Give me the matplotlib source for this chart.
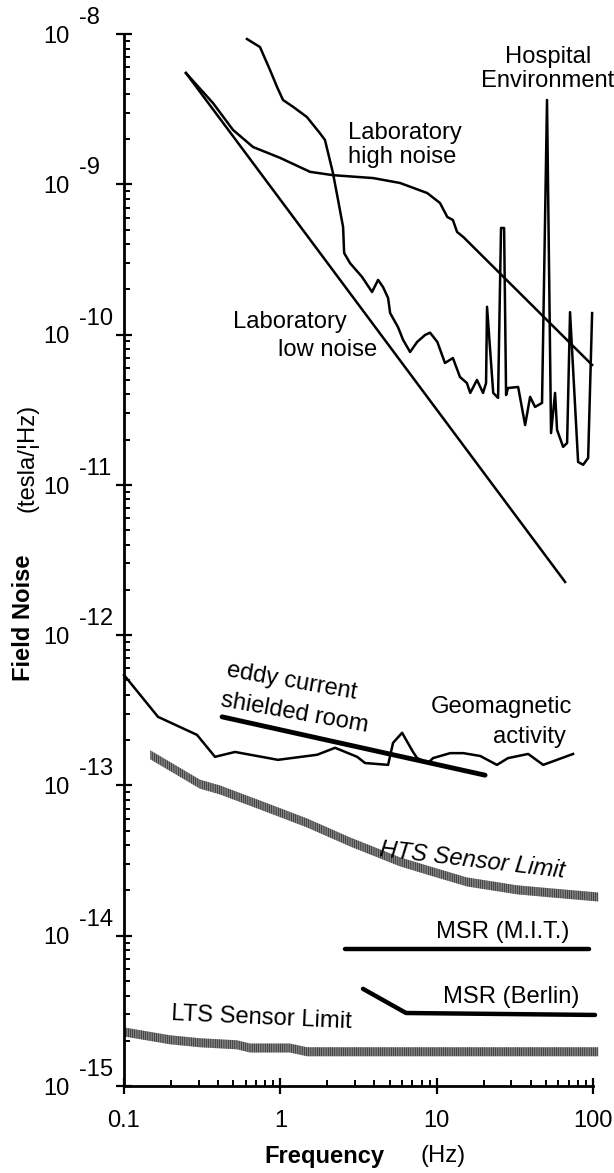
import numpy as np
import matplotlib
matplotlib.use("Agg")
import matplotlib.pyplot as plt
from matplotlib.ticker import LogLocator, NullFormatter

plt.rcParams["font.family"] = ["Liberation Sans", "DejaVu Sans"]
plt.rcParams["hatch.linewidth"] = 1.0

# ---- data (frequency in Hz, field noise in T/sqrt(Hz)) ----
lab_low_f = [0.249, 66.3]
lab_low_b = [5.50e-9, 2.26e-12]

lab_high_f = [0.249, 0.371, 0.498, 0.669, 0.995, 1.55, 2.17, 3.92, 5.83, 8.69,
              10.5, 11.7, 12.7, 13.5, 14.8, 98.7]
lab_high_b = [5.50e-9, 3.47e-9, 2.30e-9, 1.77e-9, 1.50e-9, 1.21e-9, 1.15e-9, 1.10e-9,
              1.02e-9, 8.75e-10, 7.51e-10, 6.06e-10, 5.79e-10, 4.82e-10, 4.46e-10, 6.28e-11]

hosp_f = [0.612, 0.741, 0.859, 0.953, 1.04, 1.21, 1.48, 1.79, 1.93, 2.17, 2.34, 2.52,
          2.56, 2.79, 3.33, 3.86, 4.22, 4.54, 4.89, 5.04, 5.66, 6.10, 6.76, 7.50, 8.43,
          9.07, 10.1, 11.3, 12.7, 14.1, 15.6, 16.4, 18.1, 19.8, 20.7, 21.0, 23.0, 24.7,
          25.8, 27.0, 27.8, 28.6, 33.2, 36.8, 39.6, 42.6, 47.2, 50.8, 53.9, 57.2, 58.9,
          64.4, 68.3, 71.3, 80.3, 86.5, 93.1, 98.7]
hosp_b = [9.26e-9, 8.19e-9, 5.76e-9, 4.44e-9, 3.64e-9, 3.27e-9, 2.80e-9, 2.19e-9, 1.97e-9,
          1.19e-9, 7.87e-10, 5.20e-10, 3.49e-10, 2.99e-10, 2.42e-10, 1.92e-10, 2.31e-10,
          2.07e-10, 1.75e-10, 1.39e-10, 1.12e-10, 9.21e-11, 7.66e-11, 8.93e-11, 9.94e-11,
          1.03e-10, 8.93e-11, 6.47e-11, 6.98e-11, 5.22e-11, 4.76e-11, 4.09e-11, 4.99e-11,
          4.09e-11, 4.76e-11, 1.53e-10, 4.09e-11, 3.79e-11, 5.12e-10, 5.12e-10, 3.96e-11,
          4.41e-11, 4.48e-11, 2.50e-11, 3.85e-11, 3.30e-11, 3.51e-11, 3.64e-9, 2.21e-11,
          4.09e-11, 2.32e-11, 1.79e-11, 1.90e-11, 1.41e-10, 1.42e-11, 1.36e-11, 1.51e-11,
          1.39e-10]

geo_f = [0.1, 0.165, 0.293, 0.382, 0.513, 0.966, 1.72, 2.24, 3.10, 3.48, 4.89, 5.26, 6.01,
         7.06, 7.50, 8.81, 9.48, 12.2, 14.8, 19.0, 24.3, 28.6, 38.5, 48.0, 74.6]
geo_b = [5.43e-13, 2.86e-13, 2.17e-13, 1.55e-13, 1.67e-13, 1.48e-13, 1.60e-13, 1.78e-13,
         1.55e-13, 1.41e-13, 1.37e-13, 1.92e-13, 2.24e-13, 1.67e-13, 1.52e-13, 1.41e-13,
         1.52e-13, 1.64e-13, 1.64e-13, 1.57e-13, 1.37e-13, 1.52e-13, 1.62e-13, 1.37e-13,
         1.62e-13]

eddy_f = [0.424, 20.4]
eddy_b = [2.86e-13, 1.17e-13]

hts_f = [0.147, 0.306, 0.411, 0.741, 1.48, 2.79, 5.83, 9.48, 15.6, 32.7, 53.2, 108]
hts_b = [1.60e-13, 1.02e-13, 9.33e-14, 7.41e-14, 5.63e-14, 4.21e-14, 3.10e-14, 2.66e-14,
         2.28e-14, 2.02e-14, 1.93e-14, 1.81e-14]

lts_f = [0.1, 0.197, 0.306, 0.528, 0.640, 1.15, 1.48, 108]
lts_b = [2.29e-15, 2.03e-15, 1.94e-15, 1.88e-15, 1.79e-15, 1.79e-15, 1.69e-15, 1.69e-15]

mit_f = [2.59, 94.4]
mit_b = [8.17e-15, 8.17e-15]

berlin_f = [3.38, 6.37, 103]
berlin_b = [4.43e-15, 3.06e-15, 2.97e-15]

FS = 17.1

fig = plt.figure(figsize=(6.14, 11.73), dpi=100)
ax = fig.add_axes([124 / 614, 1 - 1086 / 1173, 469 / 614, 1052 / 1173])
ax.set_xscale("log")
ax.set_yscale("log")
ax.set_xlim(0.1, 100)
ax.set_ylim(1e-15, 1e-8)

lw = 1.8
ax.plot(lab_low_f, lab_low_b, color="black", lw=lw, clip_on=False)
ax.plot(lab_high_f, lab_high_b, color="black", lw=lw, clip_on=False)
ax.plot(hosp_f, hosp_b, color="black", lw=lw, clip_on=False)
ax.plot(geo_f, geo_b, color="black", lw=lw, clip_on=False)
ax.plot(eddy_f, eddy_b, color="black", lw=3.5, solid_capstyle="round", clip_on=False)
ax.plot(mit_f, mit_b, color="black", lw=3.2, solid_capstyle="round", clip_on=False)
ax.plot(berlin_f, berlin_b, color="black", lw=3.2, solid_capstyle="round", clip_on=False)

# striped sensor-limit bands
half = 10 ** 0.03
for f, b in [(hts_f, hts_b), (lts_f, lts_b)]:
    b = np.array(b)
    ax.fill_between(f, b / half, b * half, facecolor="#cfcfcf", edgecolor="#444444",
                    hatch="|" * 9, linewidth=0, clip_on=False)

# spines and ticks
for s in ["top", "right"]:
    ax.spines[s].set_visible(False)
for s in ["left", "bottom"]:
    ax.spines[s].set_linewidth(2.0)
ax.xaxis.set_minor_locator(LogLocator(base=10, subs=np.arange(2, 10)))
ax.yaxis.set_minor_locator(LogLocator(base=10, subs=np.arange(2, 10)))
ax.xaxis.set_minor_formatter(NullFormatter())
ax.yaxis.set_minor_formatter(NullFormatter())
ax.tick_params(which="major", direction="inout", length=11, width=1.6)
ax.tick_params(which="minor", direction="in", length=4.5, width=1.4)
ax.tick_params(axis="x", which="major", pad=12, labelsize=FS)

ax.set_xticks([0.1, 1, 10, 100])
ax.set_xticklabels(["0.1", "1", "10", "100"])
ax.set_yticks([10.0 ** e for e in range(-15, -7)])
ax.set_yticklabels([])

for e in range(-15, -7):
    ax.annotate("10", xy=(0.1, 10.0 ** e), xytext=(-39, -2), textcoords="offset points",
                ha="right", va="center", fontsize=FS, annotation_clip=False)
    ax.annotate(str(e), xy=(0.1, 10.0 ** e), xytext=(-32.5, 11.5), textcoords="offset points",
                ha="left", va="center", fontsize=FS, annotation_clip=False)

# axis labels
fig.text(24 / 614, 1 - 618 / 1173, "Field Noise", rotation=90, ha="center", va="center",
         fontsize=FS, fontweight="bold")
fig.text(27 / 614, 1 - 458 / 1173, "(tesla/¦Hz)", rotation=90, ha="center", va="center",
         fontsize=FS)
fig.text(324 / 614, 1 - 1156 / 1173, "Frequency", ha="center", va="center",
         fontsize=FS, fontweight="bold")
fig.text(443 / 614, 1 - 1156 / 1173, "(Hz)", ha="center", va="center", fontsize=FS)

# annotations
kw = dict(fontsize=FS, clip_on=False)
ax.text(51.6, 5.85e-9, "Hospital\nEnvironment", ha="center", va="center", linespacing=1.15, **kw)
ax.text(2.71, 1.83e-9, "Laboratory\nhigh noise", ha="left", va="center", linespacing=1.1, **kw)
ax.text(0.498, 1.21e-10, "Laboratory", ha="left", va="center", **kw)
ax.text(0.967, 7.91e-11, "low noise", ha="left", va="center", **kw)
ax.text(1.19, 4.89e-13, "eddy current", ha="center", va="center", rotation=-10,
        rotation_mode="anchor", **kw)
ax.text(1.24, 3.03e-13, "shielded room", ha="center", va="center", rotation=-10,
        rotation_mode="anchor", **kw)
ax.text(25.8, 3.33e-13, "Geomagnetic", ha="center", va="center", **kw)
ax.text(39.0, 2.10e-13, "activity", ha="center", va="center", **kw)
ax.text(16.8, 3.19e-14, "HTS Sensor Limit", ha="center", va="center", rotation=-6.7,
        rotation_mode="anchor", style="italic", **kw)
ax.text(0.763, 2.84e-15, "LTS Sensor Limit", ha="center", va="center", rotation=-2.6,
        rotation_mode="anchor", **kw)
ax.text(26.6, 1.06e-14, "MSR (M.I.T.)", ha="center", va="center", **kw)
ax.text(29.9, 3.92e-15, "MSR (Berlin)", ha="center", va="center", **kw)

fig.savefig("out.png", dpi=100)
